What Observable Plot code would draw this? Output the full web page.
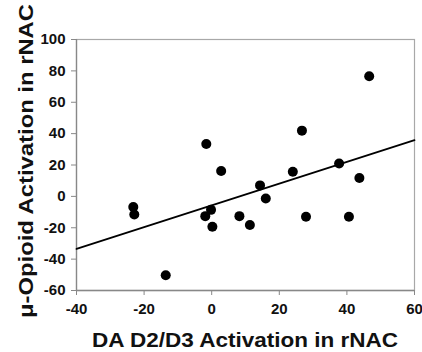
<!DOCTYPE html>
<html>
<head>
<meta charset="utf-8">
<script src="https://cdn.jsdelivr.net/npm/d3@7"></script>
<script src="https://cdn.jsdelivr.net/npm/@observablehq/plot@0.6"></script>
<style>
  html, body { margin: 0; padding: 0; background: #fff; }
  #chart svg { display: block; }
</style>
</head>
<body>
<div id="chart"></div>
<script>
// Data
const daD2D3 = [-23.2, -22.9, -13.6, -1.6, -1.9, -0.2, 0.2, 2.8, 8.2, 11.3, 14.3, 16.0, 24.0, 26.7, 27.9, 37.7, 40.6, 43.7, 46.6];
const muOpioid = [-6.8, -11.6, -50.3, 33.4, -12.6, -8.6, -19.4, 16.2, -12.6, -18.3, 7.0, -1.3, 15.7, 41.9, -13.0, 21.0, -13.0, 11.7, 76.6];
const fitX = [-40, 60];
const fitY = [-33.5, 35.8];
const xTicks = [-40, -20, 0, 20, 40, 60];
const yTicks = [-60, -40, -20, 0, 20, 40, 60, 80, 100];
const xTitle = "DA D2/D3 Activation in rNAC";
const yTitle = "\u03BC-Opioid Activation in rNAC";

const points = daD2D3.map((x, i) => ({x, y: muOpioid[i]}));
const fit = fitX.map((x, i) => ({x, y: fitY[i]}));
const fmt = d => `${d}`;

const W = 422, H = 352;
const chart = Plot.plot({
  width: W,
  height: H,
  marginLeft: 76,
  marginRight: 8,
  marginTop: 39,
  marginBottom: 62,
  style: {fontFamily: "'Liberation Sans', Arial, sans-serif", fontWeight: "bold", fontSize: "15px", color: "#111", background: "#fff"},
  x: {domain: [-40, 60], label: null},
  y: {domain: [-60, 100], label: null},
  marks: [
    Plot.frame({stroke: "#a8a8a8", strokeWidth: 1.2}),
    Plot.ruleX([-40], {stroke: "#888", strokeWidth: 1.3}),
    Plot.ruleY([-60], {stroke: "#888", strokeWidth: 1.3}),
    Plot.axisX({ticks: xTicks, tickFormat: fmt, tickSize: 5, tickPadding: 8, stroke: "#888", fill: "#111", label: null}),
    Plot.axisY({ticks: yTicks, tickFormat: fmt, tickSize: 5, tickPadding: 6, stroke: "#888", fill: "#111", label: null}),
    Plot.line(fit, {x: "x", y: "y", stroke: "#000", strokeWidth: 1.8}),
    Plot.dot(points, {x: "x", y: "y", r: 5, fill: "#000", stroke: "none"})
  ]
});

const svg = d3.select(chart);
svg.append("text")
  .attr("x", 245)
  .attr("y", 347)
  .attr("text-anchor", "middle")
  .attr("textLength", 306)
  .attr("lengthAdjust", "spacingAndGlyphs")
  .style("font-family", "'Liberation Sans', Arial, sans-serif")
  .style("font-weight", "bold")
  .style("font-size", "20px")
  .attr("fill", "#111")
  .text(xTitle);
svg.append("text")
  .attr("transform", "translate(33,161) rotate(-90)")
  .attr("text-anchor", "middle")
  .attr("textLength", 314)
  .attr("lengthAdjust", "spacingAndGlyphs")
  .style("font-family", "'Liberation Sans', Arial, sans-serif")
  .style("font-weight", "bold")
  .style("font-size", "21px")
  .attr("fill", "#111")
  .text(yTitle);

document.getElementById("chart").appendChild(chart);
</script>
</body>
</html>
